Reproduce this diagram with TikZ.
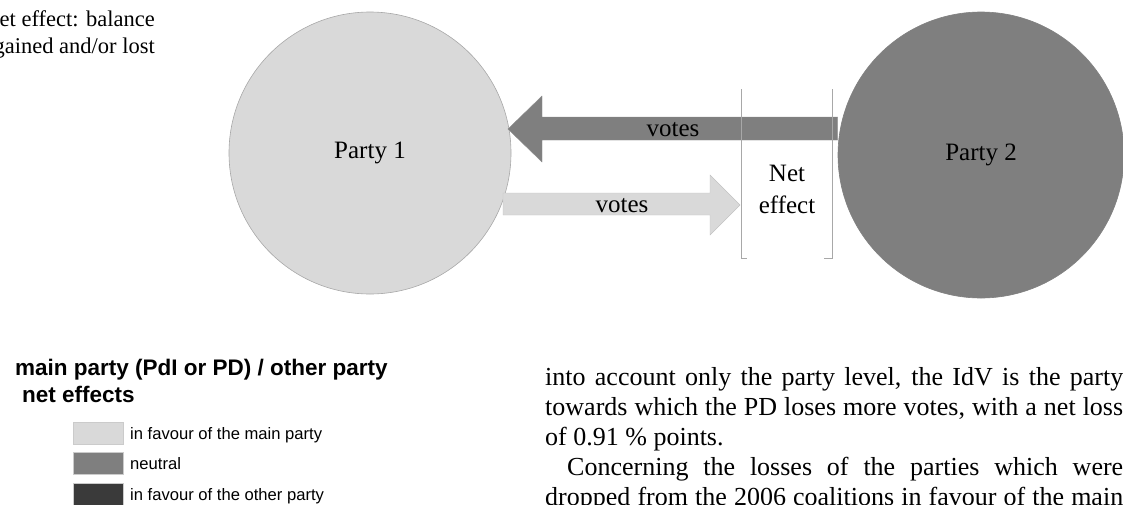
\documentclass[tikz,border=0pt]{standalone}
\usepackage{fontspec}
\setmainfont{Liberation Serif}
\newfontfamily\legendfont{Liberation Sans}
\usetikzlibrary{positioning}

\definecolor{palegrey}{HTML}{D9D9D9}
\definecolor{midgrey}{HTML}{7F7F7F}
\definecolor{rimgrey}{HTML}{A8A8A8}
\definecolor{darkgrey}{HTML}{3A3A3A}

\tikzset{
  party/.style={circle, draw=rimgrey, line width=0.6pt, inner sep=0pt},
  bigtext/.style={font=\fontsize{25}{32}\selectfont},
  captext/.style={font=\fontsize{22.5}{27}\selectfont, anchor=base east, inner sep=0pt},
  bracketline/.style={draw=rimgrey, line width=0.8pt},
  legendbox/.style={draw=rimgrey!60, line width=0.5pt},
  legendhead/.style={font=\legendfont\bfseries\fontsize{22.5}{27}\selectfont, anchor=base west, inner sep=0pt},
  legendtext/.style={font=\legendfont\fontsize{16.6}{20}\selectfont, anchor=base west, inner sep=0pt},
  bodyline/.style={font=\fontsize{26}{30}\selectfont, anchor=base west, inner sep=0pt}
}

\begin{document}
\begin{tikzpicture}[x=1pt,y=-1pt]
  \useasboundingbox (0,0) rectangle (1123,504);
  \clip (0,0) rectangle (1123,504);

  % caption fragment, top left
  \node[captext] (capa) at (155,26) {et effect: balance};
  \node[captext] (capb) at (155,53) {gained and/or lost};

  % the two parties
  \node[party, fill=palegrey, minimum size=282pt, bigtext] (partyA) at (370,153) {Party 1};
  \node[party, fill=midgrey, draw=midgrey, minimum size=286pt, bigtext] (partyB) at (981,155) {Party 2};

  % votes from party 2 to party 1
  \coordinate (darktip) at (508,129);
  \fill[midgrey, draw=midgrey!90] (darktip) -- (542,96) -- (542,117) -- (partyB.west |- 0,117)
    -- (partyB.west |- 0,140) -- (542,140) -- (542,162) -- cycle;
  \node[bigtext] (votesA) at (673,130) {votes};

  % votes from party 1 to party 2
  \coordinate (lighttip) at (740,205);
  \fill[palegrey, draw=rimgrey!70] (503,193) -- (710,193) -- (710,175) -- (lighttip)
    -- (710,235) -- (710,215) -- (503,215) -- cycle;
  \node[bigtext] (votesB) at (622,206) {votes};

  % net effect brackets
  \draw[bracketline] (741,89) -- (741,258) -- (747,258);
  \draw[bracketline] (832,89) -- (832,258) -- (824,258);
  \node[bigtext, align=center] (net) at (787,189) {Net\\effect};

  % legend of the map below
  \node[legendhead] (legtitle) at (15,375) {main party (PdI or PD) / other party};
  \node[legendhead] (legsub) at (22,402) {net effects};

  \foreach \row/\shade/\txt in {0/palegrey/in favour of the main party,
                                1/midgrey/neutral,
                                2/darkgrey/in favour of the other party}{
    \fill[\shade, legendbox] (73,422+30.5*\row) rectangle (123,444+30.5*\row);
    \node[legendtext] (leg\row) at (130,439+30.5*\row) {\txt};
  }

  % body text, right column
  \node[bodyline] (lineA) at (545,385) {\makebox[578pt][s]{into account only the party level, the IdV is the party}};
  \node[bodyline] (lineB) at (545,415) {\makebox[578pt][s]{towards which the PD loses more votes, with a net loss}};
  \node[bodyline] (lineC) at (545,445) {of 0.91 \% points.};
  \node[bodyline] (lineD) at (567,475) {\makebox[556pt][s]{Concerning the losses of the parties which were}};
  \node[bodyline] (lineE) at (545,505) {\makebox[578pt][s]{dropped from the 2006 coalitions in favour of the main}};
\end{tikzpicture}
\end{document}
